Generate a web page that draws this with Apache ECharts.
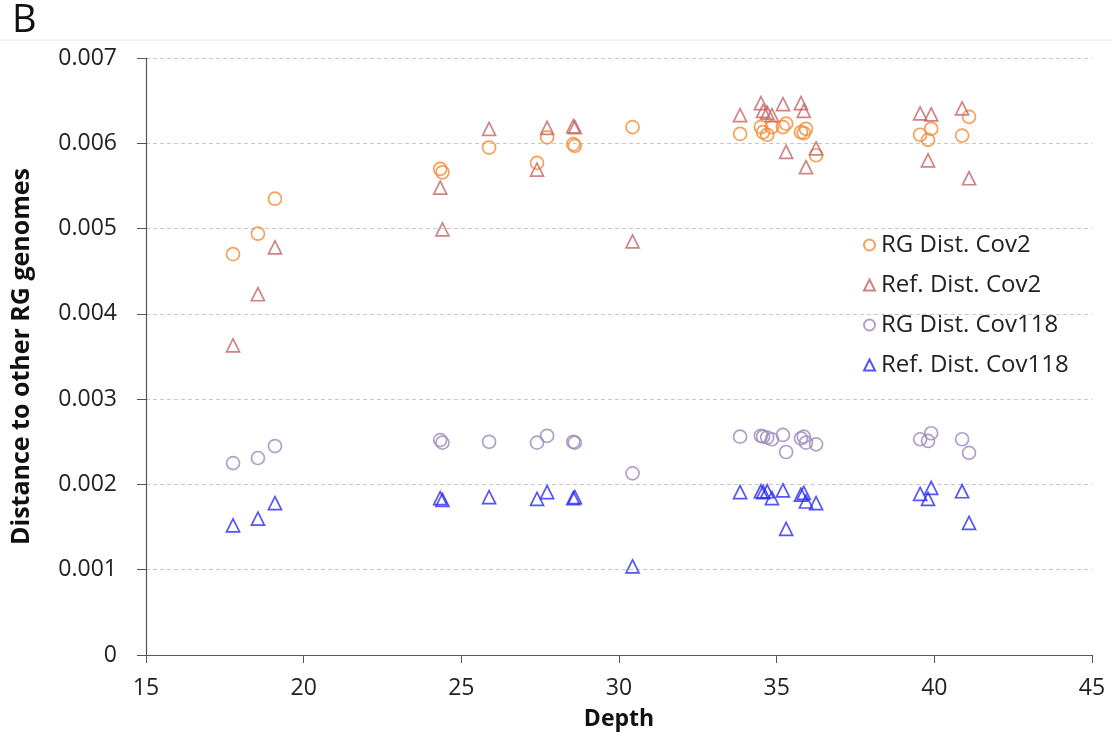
<!DOCTYPE html>
<html>
<head>
<meta charset="utf-8">
<script src="https://cdn.jsdelivr.net/npm/echarts@6/dist/echarts.min.js"></script>
<style>
  html, body { margin: 0; padding: 0; background: #fff; }
  #chart { width: 1112px; height: 742px; }
</style>
</head>
<body>
<div id="chart"></div>
<script>
// Sequencing depth of each sample
const depth = [
  17.76, 18.55, 19.09,
  24.33, 24.40, 25.88, 27.40, 27.72, 28.55, 28.60, 30.43,
  33.84, 34.50, 34.57, 34.70, 34.85, 35.20, 35.30, 35.77, 35.86, 35.93, 36.25,
  39.55, 39.80, 39.90, 40.88, 41.10
];
// Distances to the other RG genomes, one value per sample
const rgDistCov2 = [
  0.00470, 0.00494, 0.00535,
  0.00570, 0.00566, 0.00595, 0.00577, 0.00607, 0.00599, 0.00597, 0.00619,
  0.00611, 0.00619, 0.00613, 0.00610, 0.00619, 0.00619, 0.00623, 0.00613, 0.00612, 0.00617, 0.00586,
  0.00610, 0.00604, 0.00617, 0.00609, 0.00631
];
const refDistCov2 = [
  0.00363, 0.00423, 0.00478,
  0.00548, 0.00499, 0.00617, 0.00569, 0.00618, 0.00620, 0.00619, 0.00485,
  0.00633, 0.00647, 0.00638, 0.00636, 0.00633, 0.00646, 0.00590, 0.00647, 0.00638, 0.00572, 0.00594,
  0.00635, 0.00580, 0.00634, 0.00641, 0.00559
];
const rgDistCov118 = [
  0.00225, 0.00231, 0.00245,
  0.00252, 0.00249, 0.00250, 0.00249, 0.00257, 0.00250, 0.00249, 0.00213,
  0.00256, 0.00257, 0.00256, 0.00255, 0.00253, 0.00258, 0.00238, 0.00254, 0.00256, 0.00249, 0.00247,
  0.00253, 0.00251, 0.00260, 0.00253, 0.00237
];
const refDistCov118 = [
  0.00152, 0.00160, 0.00178,
  0.00184, 0.00182, 0.00185, 0.00183, 0.00191, 0.00184, 0.00185, 0.00104,
  0.00191, 0.00192, 0.00191, 0.00192, 0.00184, 0.00193, 0.00148, 0.00188, 0.00190, 0.00180, 0.00178,
  0.00189, 0.00183, 0.00196, 0.00192, 0.00155
];
const seriesNames = ['RG Dist. Cov2', 'Ref. Dist. Cov2', 'RG Dist. Cov118', 'Ref. Dist. Cov118'];
const xTicks = { min: 15, max: 45, interval: 5 };
const yTicks = { min: 0, max: 0.007, interval: 0.001 };

const pair = vals => depth.map((d, i) => [d, vals[i]]);

const FONT = '"Open Sans", "Liberation Sans", sans-serif';

function makeSeries(name, vals, symbol, color, size) {
  return {
    name: name,
    type: 'scatter',
    data: pair(vals),
    symbol: symbol,
    symbolSize: size,
    itemStyle: { color: 'rgba(255,255,255,0)', borderColor: color, borderWidth: 1.7 },
    emphasis: { disabled: true }
  };
}

const chart = echarts.init(document.getElementById('chart'), null, { renderer: 'canvas' });
chart.setOption({
  animation: false,
  backgroundColor: '#fff',
  grid: { left: 146, right: 20, top: 58, bottom: 87 },
  graphic: [
    { type: 'text', left: 12, top: 2, style: { text: 'B', font: '38px ' + FONT, fill: '#111' } },
    { type: 'line', shape: { x1: 0, y1: 40, x2: 1112, y2: 40 }, style: { stroke: '#e8e8e8', lineWidth: 1 } }
  ],
  legend: {
    orient: 'vertical',
    left: 858,
    top: 227,
    itemGap: 14,
    itemWidth: 11,
    itemHeight: 11,
    data: seriesNames,
    textStyle: { fontFamily: FONT, fontSize: 24, lineHeight: 26, color: '#222', padding: [0, 0, 0, 1] }
  },
  xAxis: {
    type: 'value',
    min: xTicks.min, max: xTicks.max, interval: xTicks.interval,
    name: 'Depth',
    nameLocation: 'middle',
    nameGap: 53,
    nameTextStyle: { fontFamily: FONT, fontSize: 23, fontWeight: 'bold', color: '#111' },
    axisLine: { lineStyle: { color: '#555', width: 1.2 } },
    axisTick: { show: true, inside: false, length: 8, lineStyle: { color: '#555' } },
    axisLabel: { fontFamily: FONT, fontSize: 23, color: '#222', margin: 22 },
    splitLine: { show: false }
  },
  yAxis: {
    type: 'value',
    min: yTicks.min, max: yTicks.max, interval: yTicks.interval,
    name: 'Distance to other RG genomes',
    nameLocation: 'middle',
    nameGap: 112,
    nameTextStyle: { fontFamily: FONT, fontSize: 25, fontWeight: 'bold', color: '#111' },
    axisLine: { show: true, lineStyle: { color: '#555', width: 1.2 } },
    axisTick: { show: true, inside: false, length: 9, lineStyle: { color: '#555' } },
    axisLabel: {
      fontFamily: FONT, fontSize: 23, color: '#222', margin: 29,
      formatter: v => (v === 0 ? '0' : v.toFixed(3))
    },
    splitLine: { show: true, lineStyle: { color: '#c8c8c8', type: [4, 3], width: 1.2 } }
  },
  series: [
    makeSeries(seriesNames[0], rgDistCov2, 'circle', '#f5882f', 13),
    makeSeries(seriesNames[1], refDistCov2, 'triangle', '#c46464', 13),
    makeSeries(seriesNames[2], rgDistCov118, 'circle', '#9c88bb', 13),
    makeSeries(seriesNames[3], refDistCov118, 'triangle', '#2a2af5', 13)
  ]
});
</script>
</body>
</html>
